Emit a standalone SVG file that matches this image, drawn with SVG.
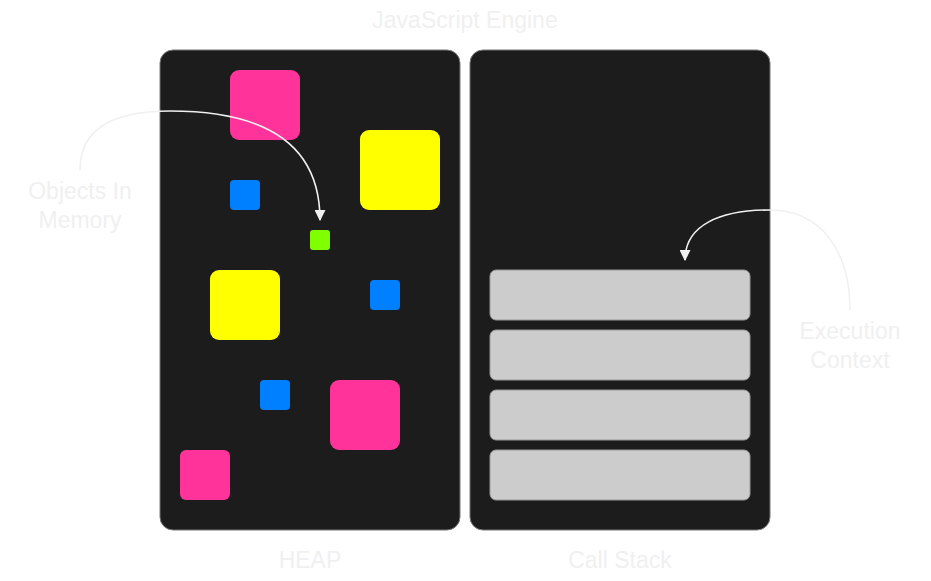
<svg xmlns="http://www.w3.org/2000/svg" width="931" height="581" viewBox="0 0 931 581">
<defs>
<style>
.panel{fill:#1c1c1c;stroke:#777;stroke-width:1}
.lbl{font-family:"Liberation Sans",Arial,sans-serif;font-size:23px;fill:#f0f0f0;text-anchor:middle}
.pink{fill:#ff3399}
.yellow{fill:#ffff00}
.blue{fill:#007fff}
.green{fill:#80ff00}
.frame{fill:#cccccc;stroke:#999;stroke-width:1}
.conn{fill:none;stroke:#f0f0f0;stroke-width:1.6}
</style>
<marker id="ah" viewBox="0 0 10 10" refX="9" refY="5" markerWidth="11" markerHeight="11" markerUnits="userSpaceOnUse" orient="auto">
<path d="M0,0 L10,5 L0,10 z" fill="#f0f0f0"/>
</marker>
</defs>
<rect width="931" height="581" fill="#ffffff"/>
<text class="lbl" x="465" y="28">JavaScript Engine</text>
<g id="heap">
<rect class="panel" x="160" y="50" width="300" height="480" rx="13"/>
<text class="lbl" x="310" y="568">HEAP</text>
</g>
<g id="callstack">
<rect class="panel" x="470" y="50" width="300" height="480" rx="13"/>
<text class="lbl" x="620" y="568">Call Stack</text>
</g>
<g id="objects">
<rect class="pink" x="230" y="70" width="70" height="70" rx="9"/>
<rect class="yellow" x="360" y="130" width="80" height="80" rx="9"/>
<rect class="blue" x="230" y="180" width="30" height="30" rx="4"/>
<rect class="green" x="310" y="230" width="20" height="20" rx="3"/>
<rect class="yellow" x="210" y="270" width="70" height="70" rx="9"/>
<rect class="blue" x="370" y="280" width="30" height="30" rx="4"/>
<rect class="blue" x="260" y="380" width="30" height="30" rx="4"/>
<rect class="pink" x="330" y="380" width="70" height="70" rx="9"/>
<rect class="pink" x="180" y="450" width="50" height="50" rx="6"/>
</g>
<g id="frames">
<rect class="frame" x="490" y="270" width="260" height="50" rx="6"/>
<rect class="frame" x="490" y="330" width="260" height="50" rx="6"/>
<rect class="frame" x="490" y="390" width="260" height="50" rx="6"/>
<rect class="frame" x="490" y="450" width="260" height="50" rx="6"/>
</g>
<g id="label-objects">
<text class="lbl" x="80" y="199">Objects In</text>
<text class="lbl" x="80" y="228">Memory</text>
</g>
<g id="label-ec">
<text class="lbl" x="850" y="339">Execution</text>
<text class="lbl" x="850" y="368">Context</text>
</g>
<g id="connectors">
<path class="conn" d="M80,170 C80,125 120,111 170,111 C260,111 320,140 320,220" marker-end="url(#ah)"/>
<path class="conn" d="M850,310 C850,250 820,210 770,210 C720,210 685,225 685,260" marker-end="url(#ah)"/>
</g>
</svg>
